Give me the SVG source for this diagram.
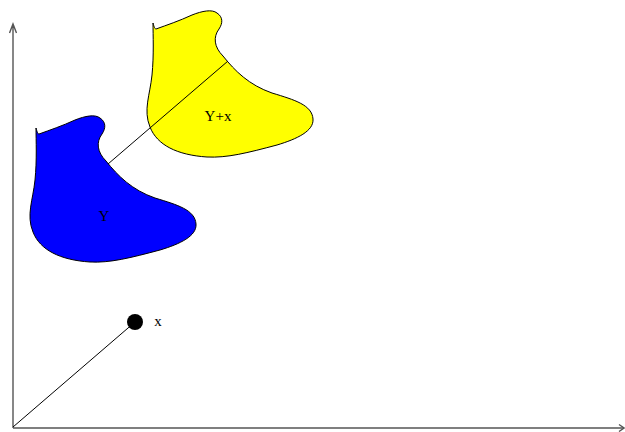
<svg xmlns="http://www.w3.org/2000/svg" width="625" height="432" viewBox="0 0 625 432">
<style>
.axis{stroke:#555;stroke-width:1.4;fill:none}
.ln{stroke:#000;stroke-width:1;fill:none}
.lbl{font-family:"Liberation Serif",serif;font-size:15px;fill:#000}
.shape{stroke:#000;stroke-width:1}
</style>
<defs>
<path id="blob" d="M36,128 C37,132 38,134 39,134 C50,130 62,126 75,120 C85,116 95,114 100,118 C106,122 106,128 102,134 C96,142 97,152 106,161 C118,176 132,190 155,198 C178,205 195,210 196,224 C197,236 180,244 160,250 C130,258 110,263 90,262 C60,260 40,250 33,232 C26,215 33,200 35,180 C37,160 36,140 36,128 Z"/>
</defs>
<g id="axes">
<path class="axis" d="M13,428 V24 M9.5,33 L13,24 L16.5,33"/>
<path class="axis" d="M13,428 H624"/>
<path class="axis" d="M619,424.5 L624,428 L619,431.5"/>
</g>
<g id="Y">
<use href="#blob" class="shape" fill="#0000ff"/>
<text class="lbl" x="104" y="221" text-anchor="middle">Y</text>
</g>
<g id="Yx">
<use href="#blob" class="shape" fill="#ffff00" transform="translate(117,-105)"/>
<text class="lbl" x="218" y="121" text-anchor="middle">Y+x</text>
</g>
<g id="point">
<circle cx="135" cy="322" r="8" fill="#000"/>
<text class="lbl" x="158" y="326" text-anchor="middle">x</text>
</g>
<g id="connectors">
<line class="ln" x1="13" y1="427" x2="135" y2="322"/>
<line class="ln" x1="108" y1="164" x2="228" y2="61"/>
</g>
</svg>
